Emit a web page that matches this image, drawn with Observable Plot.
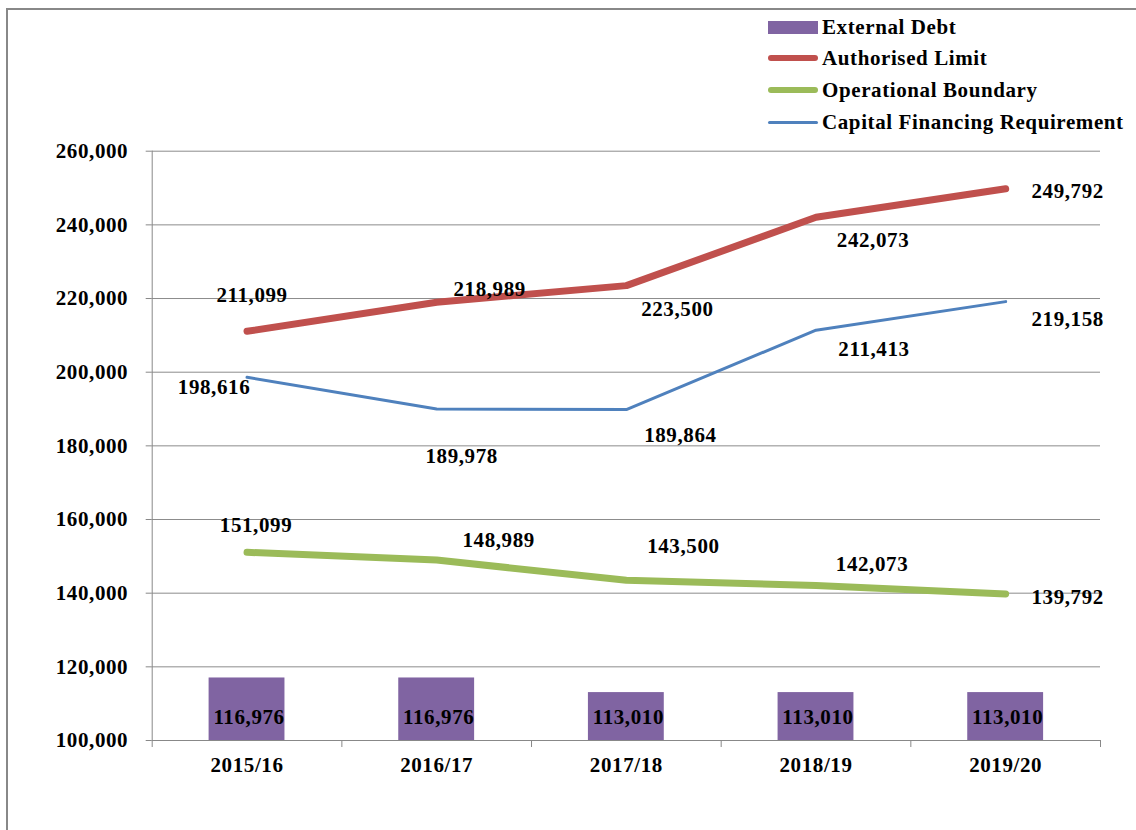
<!DOCTYPE html>
<html><head><meta charset="utf-8">
<script src="https://cdn.jsdelivr.net/npm/d3@7"></script>
<script src="https://cdn.jsdelivr.net/npm/@observablehq/plot@0.6"></script>
<style>
body{margin:0;background:#fff;}
#wrap{position:relative;width:1136px;height:830px;overflow:hidden;font-family:"Liberation Serif",serif;font-weight:bold;color:#000;}
#frame{position:absolute;left:6px;top:8px;width:1200px;height:900px;border-top:2px solid #888;border-left:2px solid #888;pointer-events:none;}
#legend{position:relative;height:140px;}
.item{position:absolute;left:768px;height:26px;display:flex;align-items:center;font-size:21px;letter-spacing:0.6px;white-space:nowrap;}
.sw{width:50px;margin-right:4px;}
#chart svg{display:block;}
</style></head>
<body>
<div id="wrap">
  <div id="frame"></div>
  <div id="legend"></div>
  <div id="chart"></div>
</div>
<script>
const years = ["2015/16", "2016/17", "2017/18", "2018/19", "2019/20"];
const externalDebt = [116976, 116976, 113010, 113010, 113010];
const authorisedLimit = [211099, 218989, 223500, 242073, 249792];
const operationalBoundary = [151099, 148989, 143500, 142073, 139792];
const capitalFinancingRequirement = [198616, 189978, 189864, 211413, 219158];
const yTicks = [100000, 120000, 140000, 160000, 180000, 200000, 220000, 240000, 260000];
const seriesNames = ["External Debt", "Authorised Limit", "Operational Boundary", "Capital Financing Requirement"];

const colors = {bar: "#8064A2", red: "#C0504D", green: "#9BBB59", blue: "#4F81BD"};
const fmt = d3.format(",");

// legend
const legend = document.getElementById("legend");
const legendSpecs = [
  {name: seriesNames[0], c: colors.bar, h: 13, r: 0, top: 14},
  {name: seriesNames[1], c: colors.red, h: 6, r: 3, top: 45},
  {name: seriesNames[2], c: colors.green, h: 6, r: 3, top: 77},
  {name: seriesNames[3], c: colors.blue, h: 3, r: 1.5, top: 109}
];
for (const s of legendSpecs) {
  const it = document.createElement("div");
  it.className = "item";
  it.style.top = s.top + "px";
  const sw = document.createElement("div");
  sw.className = "sw";
  sw.style.height = s.h + "px";
  sw.style.background = s.c;
  sw.style.borderRadius = s.r + "px";
  it.appendChild(sw);
  const t = document.createElement("span");
  t.textContent = s.name;
  it.appendChild(t);
  legend.appendChild(it);
}

const rows = (vals) => vals.map((v, i) => ({x: i + 0.5, v, year: years[i]}));
const barRows = rows(externalDebt);
const redRows = rows(authorisedLimit);
const greenRows = rows(operationalBoundary);
const blueRows = rows(capitalFinancingRequirement);

// label offsets (layout only)
const redOff = [[5, -36], [53, -13], [51, 24], [57, 23], [62, 2]];
const blueOff = [[-33, 10], [25, 47], [54, 26], [58, 19], [62, 18]];
const greenOff = [[9, -27], [62, -20], [57, -34], [56, -21], [62, 3]];

const labelMarks = (data, offs) => data.map((d, i) =>
  Plot.text([d], {x: "x", y: "v", text: (e) => fmt(e.v), dx: offs[i][0], dy: offs[i][1], fill: "black"}));

const chart = Plot.plot({
  width: 1136,
  height: 690,
  marginLeft: 151.7,
  marginRight: 36,
  marginTop: 10.7,
  marginBottom: 90,
  style: {fontFamily: "Liberation Serif", fontSize: "21px", fontWeight: "bold", letterSpacing: "0.6px", background: "transparent", overflow: "visible"},
  x: {domain: [0, 5]},
  y: {domain: [yTicks[0], yTicks[yTicks.length - 1]]},
  marks: [
    Plot.gridY(yTicks.slice(1), {stroke: "#8c8c8c", strokeOpacity: 1}),
    Plot.rect(barRows, {x1: (d) => d.x - 0.2, x2: (d) => d.x + 0.2, y1: yTicks[0], y2: "v", fill: colors.bar}),
    Plot.line(redRows, {x: "x", y: "v", stroke: colors.red, strokeWidth: 7, strokeLinecap: "round", strokeLinejoin: "round"}),
    Plot.line(greenRows, {x: "x", y: "v", stroke: colors.green, strokeWidth: 7, strokeLinecap: "round", strokeLinejoin: "round"}),
    Plot.line(blueRows, {x: "x", y: "v", stroke: colors.blue, strokeWidth: 3, strokeLinecap: "round", strokeLinejoin: "round"}),
    Plot.ruleX([0], {stroke: "#888"}),
    Plot.ruleY([yTicks[0]], {stroke: "#888"}),
    Plot.axisY(yTicks, {tickSize: 6, tickPadding: 18, tickFormat: fmt, stroke: "#888", fill: "black", label: null}),
    Plot.axisX([0, 1, 2, 3, 4, 5], {tickSize: 7, tickFormat: () => "", stroke: "#888", label: null}),
    Plot.axisX(barRows.map((d) => d.x), {tickSize: 0, tickPadding: 17, tickFormat: (x) => years[Math.round(x - 0.5)], fill: "black", label: null}),
    Plot.text(barRows, {x: "x", y: yTicks[0], text: (d) => fmt(d.v), dx: 2, dy: -23, fill: "black"}),
    ...labelMarks(redRows, redOff),
    ...labelMarks(blueRows, blueOff),
    ...labelMarks(greenRows, greenOff)
  ]
});
document.getElementById("chart").appendChild(chart);
</script>
</body></html>
